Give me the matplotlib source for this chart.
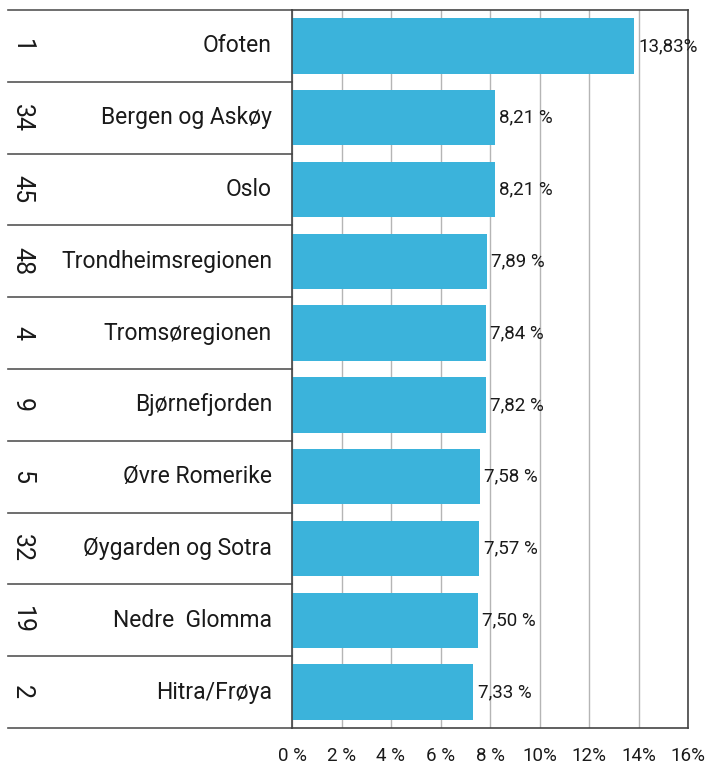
import matplotlib
matplotlib.use('Agg')
import matplotlib.pyplot as plt
import matplotlib.transforms as mtransforms

regions = ['Ofoten', 'Bergen og Askøy', 'Oslo', 'Trondheimsregionen', 'Tromsøregionen',
           'Bjørnefjorden', 'Øvre Romerike', 'Øygarden og Sotra', 'Nedre  Glomma', 'Hitra/Frøya']
ranks = ['1', '34', '45', '48', '4', '9', '5', '32', '19', '2']
values = [13.83, 8.21, 8.21, 7.89, 7.84, 7.82, 7.58, 7.57, 7.50, 7.33]
value_labels = ['13,83%', '8,21 %', '8,21 %', '7,89 %', '7,84 %', '7,82 %', '7,58 %', '7,57 %', '7,50 %', '7,33 %']
xticks = [0, 2, 4, 6, 8, 10, 12, 14, 16]
xtick_labels = ['0 %', '2 %', '4 %', '6 %', '8 %', '10%', '12%', '14%', '16%']

plt.rcParams['font.family'] = ['Roboto', 'DejaVu Sans']

fig = plt.figure(figsize=(7.2, 7.65), dpi=100)
ax = fig.add_axes([292 / 720, 1 - 728 / 765, 396 / 720, 718 / 765])

ypos = list(range(len(regions)))
bars = ax.barh(ypos, values, height=0.77, color='#3BB3DB', zorder=2)
ax.bar_label(bars, labels=value_labels, padding=3, fontsize=13.5, color='#1a1a1a')

ax.set_xlim(0, 16)
ax.set_ylim(len(regions) - 0.5, -0.5)
ax.set_xticks(xticks)
ax.set_xticklabels(xtick_labels, fontsize=13.5, color='#1a1a1a')
ax.tick_params(axis='x', length=0, pad=14)
ax.set_yticks([])
ax.grid(axis='x', color='#b5b5b5', linewidth=1, zorder=0)
for s in ax.spines.values():
    s.set_color('#444444')
    s.set_linewidth(1.2)

# category labels and separators on the left
trans = mtransforms.blended_transform_factory(ax.transAxes, ax.transData)
x_left = (8 - 292) / 396
for i in ypos:
    ax.text((22 - 292) / 396, i, ranks[i], transform=trans, rotation=-90,
            ha='center', va='center', fontsize=18, color='#1a1a1a')
    ax.text((272 - 292) / 396, i, regions[i], transform=trans,
            ha='right', va='center', fontsize=16.5, color='#1a1a1a')
for b in range(len(regions) + 1):
    ax.plot([x_left, 0], [b - 0.5, b - 0.5], transform=trans, color='#555555',
            linewidth=1.2, clip_on=False)

fig.savefig('out.png', dpi=100)
